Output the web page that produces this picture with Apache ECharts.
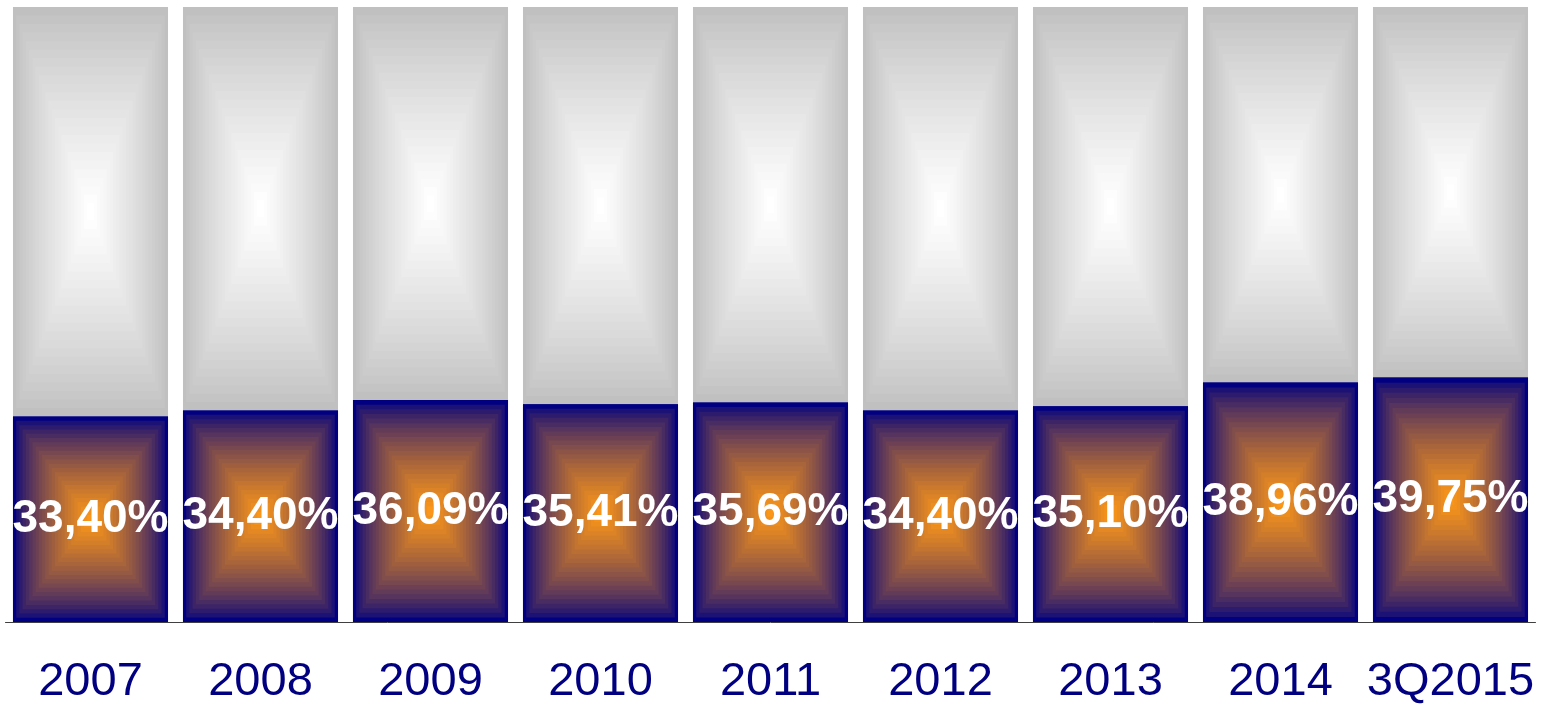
<!DOCTYPE html>
<html><head><meta charset="utf-8">
<script src="https://cdn.jsdelivr.net/npm/echarts@6/dist/echarts.min.js"></script>
<style>html,body{margin:0;padding:0;background:#fff;overflow:hidden}#c{width:1547px;height:706px}</style>
</head><body><div id="c"></div>
<script>
const categories = ['2007','2008','2009','2010','2011','2012','2013','2014','3Q2015'];
const shareValues = [33.40, 34.40, 36.09, 35.41, 35.69, 34.40, 35.10, 38.96, 39.75];
const totalValue = 100;

const BAR_RATIO = 0.912;
const NAVY = [0,0,128], ORANGE = [250,150,25];
const GREY = [192,192,192], WHITE = [255,255,255];

function mix(a,b,t){
  return 'rgb(' + Math.round(a[0]+(b[0]-a[0])*t) + ',' + Math.round(a[1]+(b[1]-a[1])*t) + ',' + Math.round(a[2]+(b[2]-a[2])*t) + ')';
}
function fmt(v){ return v.toFixed(2).replace('.', ',') + '%'; }

function makeRender(outer, inner, gamma, withLabel, stroke){
  return function(params, api){
    const i = api.value(0), lo = api.value(1), hi = api.value(2);
    const pTop = api.coord([i, hi]);
    const pBot = api.coord([i, lo]);
    const bw = api.size([1, 0])[0] * BAR_RATIO;
    const x = pTop[0] - bw/2, y = pTop[1], w = bw, h = pBot[1] - pTop[1];
    const children = [];
    const N = 24;
    for (let k = 0; k < N; k++){
      const s = k / N;
      children.push({type:'rect', silent:true,
        shape:{x:x + s*w/2, y:y + s*h/2, width:w*(1-s), height:h*(1-s)},
        style:{fill: mix(outer, inner, Math.pow(k/(N-1), gamma))}});
    }
    if (stroke) {
      children.push({type:'rect', silent:true,
        shape:{x:x+1, y:y+1, width:w-2, height:h-2},
        style:{fill:'none', stroke:stroke, lineWidth:2}});
    }
    if (withLabel) children.push({type:'text', silent:true, x:pTop[0], y:y + h/2,
      style:{text: fmt(hi - lo), fill:'#ffffff', font:'bold 46px "Liberation Sans", Arial, sans-serif',
        align:'center', verticalAlign:'middle'}});
    return {type:'group', children:children};
  };
}

const chart = echarts.init(document.getElementById('c'), null, {renderer:'canvas'});
chart.setOption({
  animation:false,
  backgroundColor:'#ffffff',
  grid:{left:5.5, right:11.5, top:7, bottom:81, containLabel:false},
  xAxis:{type:'category', data:categories, boundaryGap:true,
    axisTick:{show:false},
    axisLine:{show:true, lineStyle:{color:'#404040', width:1}},
    axisLabel:{color:'#000080', fontSize:47, fontFamily:'"Liberation Sans", Arial, sans-serif', margin:37, interval:0},
    splitLine:{show:false}},
  yAxis:{type:'value', min:0, max:totalValue, show:false, splitLine:{show:false}},
  series:[
    {type:'custom', name:'rest', renderItem: makeRender(GREY, WHITE, 0.85, false, null),
      data: shareValues.map((v,i)=>[i, v, totalValue]), z:2},
    {type:'custom', name:'share', renderItem: makeRender(NAVY, ORANGE, 0.7, true, '#000080'),
      data: shareValues.map((v,i)=>[i, 0, v]), z:3}
  ]
});
</script>
</body></html>
